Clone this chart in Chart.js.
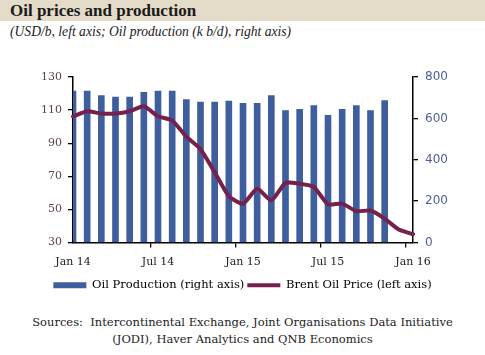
<!DOCTYPE html>
<html><head><meta charset="utf-8">
<script src="https://cdn.jsdelivr.net/npm/chart.js@4/dist/chart.umd.min.js"></script>
<style>
html,body{margin:0;padding:0;background:#fff;}
#wrap{position:relative;width:485px;height:355px;overflow:hidden;background:#fff;}
#band{position:absolute;left:0;top:0;width:485px;height:21px;background:#e4dbc8;}
#title{position:absolute;left:10px;top:1px;font:bold 17px "Liberation Serif";color:#1a1a1a;white-space:nowrap;}
#sub{position:absolute;left:10px;top:24px;font:italic 13.6px "Liberation Serif";color:#222;white-space:nowrap;}
#src{position:absolute;left:0;width:485px;top:314px;text-align:center;font:11.5px "DejaVu Serif";line-height:17px;color:#222;}
canvas{position:absolute;left:0;top:0;}
</style></head>
<body>
<div id="wrap">
<div id="band"></div>
<div id="title">Oil prices and production</div>
<div id="sub">(USD/b, left axis; Oil production (k b/d), right axis)</div>
<canvas id="c" width="485" height="305"></canvas>
<div id="src">Sources:&nbsp; Intercontinental Exchange, Joint Organisations Data Initiative<br>(JODI), Haver Analytics and QNB Economics</div>
</div>
<script>
const months = ["Jan 14","Feb 14","Mar 14","Apr 14","May 14","Jun 14","Jul 14","Aug 14","Sep 14","Oct 14","Nov 14","Dec 14",
"Jan 15","Feb 15","Mar 15","Apr 15","May 15","Jun 15","Jul 15","Aug 15","Sep 15","Oct 15","Nov 15","Dec 15","Jan 16"];
const production = [732,732,710,703,703,726,732,732,691,679,679,684,673,673,710,638,644,662,615,644,662,638,686,null,null];
const brent = [106.1,109.3,107.9,107.9,109.3,112.3,106.3,103.7,94,86.4,72.5,58,53.5,62.5,55.5,66,65.5,63.5,53.1,53.5,48.9,49.3,44.4,37.8,35];
const leftTicks = [30,50,70,90,110,130];
const rightTicks = [0,200,400,600,800];
const seriesNames = ["Oil Production (right axis)","Brent Oil Price (left axis)"];

const BLUE = "#3f5e9e", MAROON = "#76204c";
const serif = "'DejaVu Serif'";

new Chart(document.getElementById("c"), {
  data: {
    labels: months,
    datasets: [
      {type:"bar", label: seriesNames[0], data: production, yAxisID:"y1", backgroundColor: BLUE, borderWidth:0, barThickness:6, order:2},
      {type:"line", label: seriesNames[1], data: brent, yAxisID:"y", borderColor: MAROON, backgroundColor: MAROON, borderWidth:4,
       pointRadius:0, tension:0.2, borderJoinStyle:"round", borderCapStyle:"round", order:1}
    ]
  },
  options: {
    responsive:false, animation:false,
    layout:{padding:{top:77,left:0,right:0,bottom:4}},
    plugins:{
      tooltip:{enabled:false},
      legend:{
        position:"bottom",
        labels:{
          usePointStyle:true, pointStyleWidth:33, boxHeight:6, padding:3,
          font:{family:serif, size:11.5}, color:"#222",
          generateLabels:(chart)=>[
            {text:seriesNames[0], fillStyle:BLUE, strokeStyle:BLUE, lineWidth:0, pointStyle:"rect", datasetIndex:0, hidden:false},
            {text:seriesNames[1], fillStyle:MAROON, strokeStyle:MAROON, lineWidth:4, pointStyle:"line", datasetIndex:1, hidden:false}
          ]
        }
      }
    },
    scales:{
      x:{
        type:"category", offset:false,
        afterFit:(s)=>{s.height=34;},
        grid:{drawOnChartArea:false, tickLength:5, lineWidth:1.3, color:(ctx)=> (ctx.index%6===0)?"#000":"rgba(0,0,0,0)"},
        border:{color:"#000", width:1.5},
        ticks:{autoSkip:false, maxRotation:0, padding:8, font:{family:serif, size:11}, color:"#222",
          callback:(v,i)=> (i%6===0)? months[i] : ""}
      },
      y:{
        position:"left", min:30, max:130,
        afterFit:(s)=>{s.width=73;},
        afterBuildTicks:(s)=>{s.ticks = leftTicks.map(v=>({value:v}));},
        grid:{drawOnChartArea:false, tickLength:5, color:"#000", lineWidth:1.3},
        border:{color:"#000", width:1.5},
        ticks:{padding:6, font:{family:serif, size:11}, color:"#5a3d50"}
      },
      y1:{
        position:"right", min:0, max:800,
        afterFit:(s)=>{s.width=72;},
        afterBuildTicks:(s)=>{s.ticks = rightTicks.map(v=>({value:v}));},
        grid:{drawOnChartArea:false, tickLength:5, color:"#000", lineWidth:1.3},
        border:{color:"#000", width:1.5},
        ticks:{padding:7, font:{family:"'DejaVu Sans'", size:12}, color:"#4f5f94"}
      }
    }
  }
});
</script>
</body></html>
